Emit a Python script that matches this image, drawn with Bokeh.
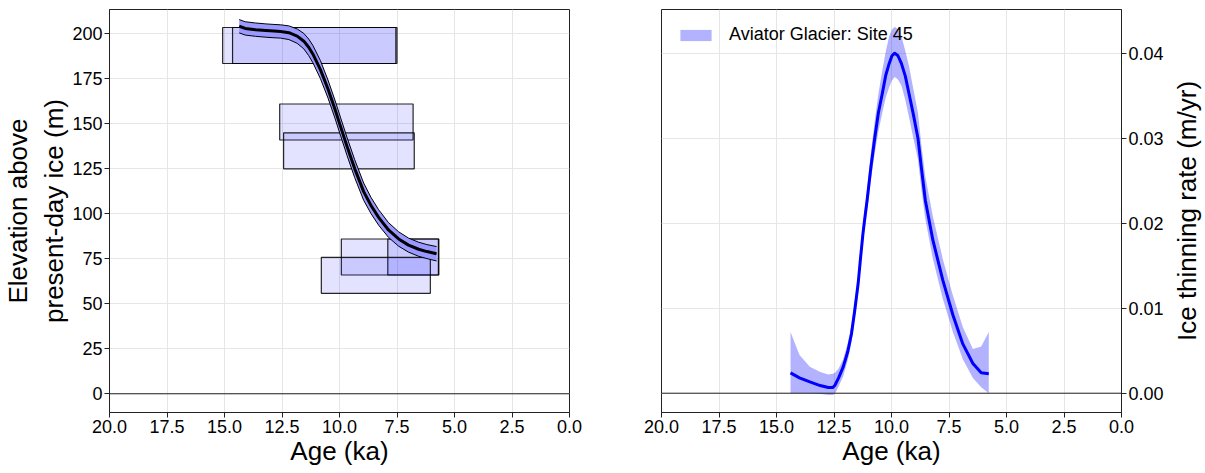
from bokeh.plotting import figure
from bokeh.layouts import row
from bokeh.models import Range1d, FixedTicker, NumeralTickFormatter, Span
from bokeh.embed import file_html
from bokeh.resources import INLINE

FONT = "Liberation Sans"

# Exposure-age samples: age (ka) with 1-sigma spread, elevation above ice (m)
sample_age = [11.29, 11.10, 9.70, 9.59, 7.80, 6.80, 8.42]
sample_age_err = [3.79, 3.55, 2.90, 2.84, 2.12, 1.10, 2.37]
sample_elev = [193.5, 193.5, 151.0, 135.0, 76.0, 76.0, 65.8]
sample_elev_err = [10, 10, 10, 10, 10, 10, 10]

# Fitted thinning history (elevation vs age) with its envelope
fit_age = [14.36, 14.10, 13.65, 13.20, 12.85, 12.56, 12.20, 11.84, 11.55, 11.34, 11.16, 10.83,
           10.50, 10.20, 9.96, 9.67, 9.34, 8.95, 8.63, 8.30, 7.87, 7.43, 7.00, 6.56, 6.20, 5.78]
fit_elev = [204.2, 203.0, 202.3, 201.8, 201.5, 201.3, 200.6, 198.7, 195.9, 192.5, 188.8, 180.1,
            169.3, 158.2, 148.7, 137.3, 125.1, 112.3, 104.6, 98.0, 91.0, 86.0, 82.6, 80.3, 79.0, 77.8]
fit_lo = [200.5, 199.3, 198.6, 198.1, 197.8, 197.6, 196.8, 194.7, 191.6, 187.9, 184.0, 175.1,
          164.3, 153.2, 143.7, 132.3, 120.1, 107.5, 100.1, 93.7, 86.9, 82.0, 78.7, 76.4, 75.1, 73.8]
fit_hi = [207.9, 206.7, 206.0, 205.5, 205.2, 205.0, 204.4, 202.7, 200.2, 197.1, 193.6, 185.1,
          174.3, 163.2, 153.7, 142.3, 130.1, 117.1, 109.1, 102.3, 95.1, 90.0, 86.5, 84.2, 82.9, 81.8]

# Ice thinning rate (m/yr) with its envelope
rate_age = [14.39, 14.00, 13.55, 13.10, 12.75, 12.55, 12.46, 12.30, 12.10, 11.90, 11.74, 11.60,
            11.45, 11.35, 11.24, 11.15, 11.06, 10.90, 10.73, 10.57, 10.40, 10.25, 10.10, 9.98,
            9.86, 9.72, 9.57, 9.40, 9.24, 9.05, 8.85, 8.70, 8.53, 8.20, 7.77, 7.33, 6.90, 6.46,
            6.10, 5.77]
rate = [0.00239, 0.0018, 0.00133, 0.0009, 0.00067, 0.00068, 0.00094, 0.0018, 0.0031, 0.0049, 0.0070, 0.0097,
        0.0129, 0.0158, 0.0188, 0.0208, 0.0227, 0.0265, 0.0300, 0.0330, 0.03526, 0.0374, 0.0388, 0.0397,
        0.0400, 0.0397, 0.0388, 0.0373, 0.03526, 0.0328, 0.0300, 0.0265, 0.0227, 0.0180, 0.0133, 0.0092,
        0.0058, 0.0035, 0.0024, 0.0023]
rate_lo = [0.0, 0.0, 0.0, -0.0001, -0.0002, -0.0002, -0.0001, 0.0008, 0.0020, 0.0039, 0.0060, 0.0087,
           0.0118, 0.0147, 0.0176, 0.0196, 0.0214, 0.0250, 0.0282, 0.0308, 0.0330, 0.0348, 0.0360, 0.0368,
           0.0372, 0.0369, 0.0362, 0.0345, 0.0325, 0.0300, 0.0275, 0.0240, 0.0205, 0.0158, 0.0111, 0.0072,
           0.0040, 0.0018, 0.0007, 0.0]
rate_hi = [0.0072, 0.0045, 0.0031, 0.0025, 0.0022, 0.0023, 0.0024, 0.0029, 0.0040, 0.0059, 0.0080, 0.0108,
           0.0140, 0.0170, 0.0200, 0.0220, 0.0240, 0.0282, 0.0320, 0.0352, 0.0380, 0.0402, 0.0420, 0.0428,
           0.0431, 0.0428, 0.0420, 0.0403, 0.0385, 0.0358, 0.0330, 0.0292, 0.0255, 0.0208, 0.0158, 0.0115,
           0.0078, 0.0052, 0.0055, 0.0072]

age_ticks = [20, 17.5, 15, 12.5, 10, 7.5, 5, 2.5, 0]
elev_ticks = [0, 25, 50, 75, 100, 125, 150, 175, 200]
rate_ticks = [0.0, 0.01, 0.02, 0.03, 0.04]

AGE_LO, AGE_HI = 0.0, 20.0
ELEV_LO, ELEV_HI = -10.4, 213.5
RATE_LO, RATE_HI = -0.00227, 0.04514


def style(p):
    p.outline_line_color = "#222222"
    p.outline_line_width = 1
    p.background_fill_color = "white"
    p.border_fill_color = "white"
    for ax in p.axis:
        ax.major_tick_out = 5
        ax.major_tick_in = 0
        ax.minor_tick_line_color = None
        ax.axis_line_color = "#222222"
        ax.major_tick_line_color = "#222222"
        ax.major_label_text_font = FONT
        ax.major_label_text_font_size = "18px"
        ax.major_label_text_color = "black"
        ax.axis_label_text_font = FONT
        ax.axis_label_text_font_size = "26px"
        ax.axis_label_text_font_style = "normal"
        ax.axis_label_text_color = "black"
        ax.major_label_standoff = 2
        ax.axis_label_standoff = 0
    p.grid.grid_line_color = "#e6e6e6"
    p.grid.grid_line_width = 1
    p.add_layout(Span(location=0, dimension="width", line_color="#222222", line_width=1))


# Left panel: elevation history
p1 = figure(width=615, height=473, x_range=Range1d(AGE_HI, AGE_LO), y_range=Range1d(ELEV_LO, ELEV_HI),
            output_backend="svg", toolbar_location=None,
            min_border_left=108, min_border_right=46, min_border_top=9, min_border_bottom=61)
p1.xaxis.ticker = FixedTicker(ticks=age_ticks)
p1.xaxis.formatter = NumeralTickFormatter(format="0.0")
p1.yaxis.ticker = FixedTicker(ticks=elev_ticks)
p1.xaxis.axis_label = "Age (ka)"
p1.yaxis.axis_label = "Elevation above\npresent-day ice (m)"

left = [a + e for a, e in zip(sample_age, sample_age_err)]
right = [a - e for a, e in zip(sample_age, sample_age_err)]
bottom = [z - e for z, e in zip(sample_elev, sample_elev_err)]
top = [z + e for z, e in zip(sample_elev, sample_elev_err)]
p1.quad(left=left, right=right, bottom=bottom, top=top,
        fill_color="blue", fill_alpha=0.11, line_color="black", line_alpha=0.85, line_width=1.2)

p1.varea(x=fit_age, y1=fit_lo, y2=fit_hi, fill_color="#9999ff", fill_alpha=1.0)
p1.line(fit_age, fit_lo, line_color="black", line_width=1)
p1.line(fit_age, fit_hi, line_color="black", line_width=1)
p1.line(fit_age, fit_elev, line_color="black", line_width=3, line_join="round")
style(p1)

# Right panel: thinning rate (ticks on the right, title in a slim strip beside it)
p2 = figure(width=551, height=473, x_range=Range1d(AGE_HI, AGE_LO), y_range=Range1d(RATE_LO, RATE_HI),
            output_backend="svg", toolbar_location=None, y_axis_location="right",
            min_border_left=46, min_border_right=44, min_border_top=9, min_border_bottom=61)
p2.xaxis.ticker = FixedTicker(ticks=age_ticks)
p2.xaxis.formatter = NumeralTickFormatter(format="0.0")
p2.yaxis.ticker = FixedTicker(ticks=rate_ticks)
p2.yaxis.formatter = NumeralTickFormatter(format="0.00")
p2.xaxis.axis_label = "Age (ka)"

p2.varea(x=rate_age, y1=rate_lo, y2=rate_hi, fill_color="blue", fill_alpha=0.3,
         legend_label="Aviator Glacier: Site 45")
p2.line(rate_age, rate, line_color="blue", line_width=3, line_join="round")
style(p2)

lg = p2.legend[0]
lg.location = "top_left"
lg.border_line_alpha = 0
lg.background_fill_alpha = 0
lg.margin = 5
lg.padding = 10
lg.glyph_width = 39
lg.glyph_height = 14
lg.label_standoff = 14
lg.label_text_font = FONT
lg.label_text_font_size = "18px"
lg.label_text_color = "black"

# Axis title for the thinning rate, read bottom-to-top and centred on the same frame height
p3 = figure(width=39, height=473, x_range=Range1d(0, 1), y_range=Range1d(RATE_LO, RATE_HI),
            output_backend="svg", toolbar_location=None,
            min_border_left=38, min_border_right=0, min_border_top=9, min_border_bottom=61)
p3.outline_line_color = None
p3.grid.visible = False
p3.xaxis.visible = False
p3.background_fill_color = "white"
p3.border_fill_color = "white"
ya = p3.yaxis[0]
ya.ticker = FixedTicker(ticks=[])
ya.axis_line_color = None
ya.major_tick_line_color = None
ya.minor_tick_line_color = None
ya.axis_label = "Ice thinning rate (m/yr)"
ya.axis_label_text_font = FONT
ya.axis_label_text_font_size = "26px"
ya.axis_label_text_font_style = "normal"
ya.axis_label_text_color = "black"
ya.axis_label_standoff = 3

layout = row(p1, p2, p3)
open("out.html", "w").write(file_html(layout, INLINE))
